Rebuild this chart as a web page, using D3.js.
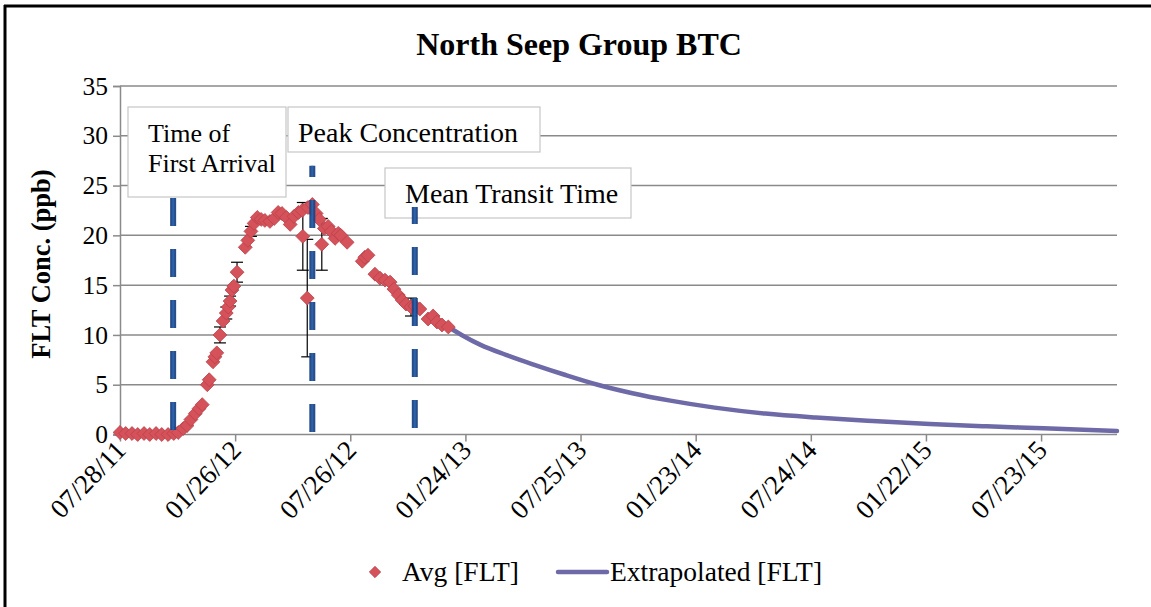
<!DOCTYPE html>
<html><head><meta charset="utf-8">
<script src="https://cdn.jsdelivr.net/npm/d3@7"></script>
<style>
body{margin:0;background:#fff}
svg{display:block}
text{font-family:"Liberation Serif","Times New Roman",serif;fill:#000}
</style>
</head><body>
<svg id="c" width="1151" height="607"></svg>
<script>
// ---------------- DATA ----------------
const startDate = "07/28/11";
const endDate = "11/20/15";
const xTickLabels = ["07/28/11","01/26/12","07/26/12","01/24/13","07/25/13","01/23/14","07/24/14","01/22/15","07/23/15"];
const yTicks = [0,5,10,15,20,25,30,35];

// Avg [FLT] : days since 07/28/11, concentration (ppb), error (ppb)
const avgDays = [0,9,19,28,38,47,57,66,76,85,92,100,106,112,119,125,130,138,141,147,150,153,158,163,168,171,174,177,180,185,198,202,207,212,217,223,229,237,244,250,256,263,269,275,282,288,289,296,297,304,310,315,319,323,329,334,340,345,349,359,383,387,392,403,411,419,427,433,440,446,452,460,466,474,487,495,501,509,519];
const avgValues = [0.2,0.1,0.1,0.0,0.1,0.0,0.1,0.0,0.0,0.1,0.2,0.6,0.9,1.5,2.1,2.6,3.0,5.0,5.5,7.3,7.8,8.2,10.0,11.4,12.2,12.8,13.4,14.5,14.9,16.3,18.8,19.5,20.4,21.2,21.8,21.6,21.5,21.4,21.7,22.3,22.2,21.8,21.1,21.9,22.3,22.5,19.9,13.7,22.8,23.1,22.2,21.6,19.1,20.7,20.9,20.4,19.7,20.2,20.0,19.3,17.4,17.8,18.0,16.1,15.7,15.5,15.3,14.6,14.0,13.5,13.1,12.8,12.9,12.6,11.6,11.9,11.3,11.0,10.8];
const avgErrors = [0,0,0,0,0,0,0,0,0,0,0,0,0,0,0,0,0,0,0,0,0,0,0.8,0,0.6,0,0.5,0,0,1.0,0,0,0.5,0,0,0,0,0,0,0,0,0,0,0,0,0,3.4,5.9,0,0,0,0,2.6,0,0,0,0,0,0,0,0,0,0,0,0,0,0,0,0,0,0,0.9,0,0,0,0,0,0,0];

// Extrapolated [FLT]
const extrapDays = [519,540,570,610,655,703,755,810,870,940,1020,1100,1190,1280,1370,1460,1576];
const extrapValues = [10.8,10.0,9.0,8.0,7.0,6.0,5.0,4.15,3.4,2.7,2.1,1.7,1.35,1.05,0.82,0.62,0.35];

// Vertical dashed markers (days since start, bottom, top in ppb)
const markerNames = ["Time of First Arrival","Peak Concentration","Mean Transit Time"];
const markerDays = [84,304,466];
const markerBottom = [0.45,0.25,0.65];
const markerTop = [26.5,27.0,22.85];

// ---------------- CHART ----------------
const svg = d3.select("#c");
const parse = d3.timeParse("%m/%d/%y");
const t0 = parse(startDate);
const dayToDate = d => d3.timeDay.offset(t0, d);

const L = 120, R = 1117, T = 86, B = 434.5;
const x = d3.scaleTime().domain([t0, parse(endDate)]).range([L, R]);
const y = d3.scaleLinear().domain([0, 35]).range([B, T]);

// border
svg.append("line").attr("x1",4).attr("x2",1151).attr("y1",6).attr("y2",6).attr("stroke","#000").attr("stroke-width",3);
svg.append("line").attr("x1",5).attr("x2",5).attr("y1",5).attr("y2",607).attr("stroke","#000").attr("stroke-width",3);

// gridlines
svg.append("g").selectAll("line").data(yTicks.filter(v=>v>0)).join("line")
  .attr("x1",L).attr("x2",R).attr("y1",d=>y(d)).attr("y2",d=>y(d))
  .attr("stroke","#8a8a8a").attr("stroke-width",1.5);

// y axis
const yAxis = svg.append("g").attr("transform",`translate(${L},0)`)
  .call(d3.axisLeft(y).tickValues(yTicks).tickSize(7).tickPadding(5).tickFormat(d3.format("d")));
yAxis.select(".domain").attr("stroke","#8a8a8a").attr("stroke-width",1.5);
yAxis.selectAll(".tick line").attr("stroke","#8a8a8a").attr("stroke-width",1.5);
yAxis.selectAll("text").attr("font-size",25.5).attr("fill","#000");

// x axis
const xTicks = xTickLabels.map(parse);
const xAxis = svg.append("g").attr("transform",`translate(0,${B})`)
  .call(d3.axisBottom(x).tickValues(xTicks).tickSize(7).tickFormat(d3.timeFormat("%m/%d/%y")));
xAxis.select(".domain").attr("stroke","#8a8a8a").attr("stroke-width",1.5).attr("d",`M${L},0H${R}`);
xAxis.selectAll(".tick line").attr("stroke","#8a8a8a").attr("stroke-width",1.5);
xAxis.selectAll(".tick text")
  .attr("font-size",27).attr("fill","#000")
  .attr("text-anchor","end").attr("dy",0)
  .attr("transform","translate(7,17) rotate(-46)").attr("y",0).attr("x",0);

// extrapolated line
const line = d3.line().x(d=>x(dayToDate(d[0]))).y(d=>y(d[1])).curve(d3.curveMonotoneX);
svg.append("path").datum(extrapDays.map((d,i)=>[d,extrapValues[i]]))
  .attr("d",line).attr("fill","none").attr("stroke","#6e6aa8").attr("stroke-width",4.5).attr("stroke-linecap","round");

// error bars
const pts = avgDays.map((d,i)=>({d, v:avgValues[i], e:avgErrors[i]}));
const eb = svg.append("g").attr("stroke","#000").attr("stroke-width",1.2);
pts.filter(p=>p.e>0).forEach(p=>{
  const cx = x(dayToDate(p.d));
  eb.append("line").attr("x1",cx).attr("x2",cx).attr("y1",y(p.v-p.e)).attr("y2",y(p.v+p.e));
  [p.v-p.e, p.v+p.e].forEach(v=>eb.append("line").attr("x1",cx-6).attr("x2",cx+6).attr("y1",y(v)).attr("y2",y(v)));
});

// markers (diamonds)
svg.append("g").selectAll("path").data(pts).join("path")
  .attr("d",d3.symbol().type(d3.symbolSquare).size(96))
  .attr("transform",p=>`translate(${x(dayToDate(p.d))},${y(p.v)}) rotate(45)`)
  .attr("fill","#d5525a").attr("stroke","#b9424b").attr("stroke-width",0.8);

// dashed vertical marker lines
function drawMarker(i){
  const cx = x(dayToDate(markerDays[i]));
  svg.append("line").attr("x1",cx).attr("x2",cx)
    .attr("y1",y(markerBottom[i])).attr("y2",y(markerTop[i]))
    .attr("stroke","#1c4585").attr("stroke-width",6).attr("stroke-dasharray","28,23").attr("opacity",0.95);
  svg.append("line").attr("x1",cx).attr("x2",cx)
    .attr("y1",y(markerBottom[i])).attr("y2",y(markerTop[i]))
    .attr("stroke","#2f67b3").attr("stroke-width",2).attr("stroke-dasharray","28,23").attr("opacity",0.8);
}
drawMarker(0); drawMarker(1);

// annotation boxes
function box(x0,y0,x1,y1,fs,lines){
  const g = svg.append("g");
  g.append("rect").attr("x",x0).attr("y",y0).attr("width",x1-x0).attr("height",y1-y0)
    .attr("fill","#fff").attr("stroke","#c6c6c6").attr("stroke-width",1.2);
  lines.forEach(l=>g.append("text").attr("x",l[0]).attr("y",l[1]).attr("font-size",fs).text(l[2]));
}
box(288,107,540,152,28,[[298,142,"Peak Concentration"]]);
box(128,107,286,197,26,[[148,142,"Time of"],[148,172,"First Arrival"]]);
box(385,168,631,218,28,[[405,203,"Mean Transit Time"]]);
drawMarker(2);

// title
svg.append("text").attr("x",579).attr("y",55).attr("text-anchor","middle")
  .attr("font-size",32).attr("font-weight","bold").text("North Seep Group BTC");

// y axis title
svg.append("text").attr("transform","translate(50,264) rotate(-90)").attr("text-anchor","middle")
  .attr("font-size",26.5).attr("font-weight","bold").text("FLT Conc. (ppb)");

// legend
svg.append("path").attr("d",d3.symbol().type(d3.symbolSquare).size(64))
  .attr("transform","translate(375,572) rotate(45)").attr("fill","#d5525a").attr("stroke","#b9424b").attr("stroke-width",0.8);
svg.append("text").attr("x",402).attr("y",581).attr("font-size",27.5).text("Avg [FLT]");
svg.append("line").attr("x1",558).attr("x2",607).attr("y1",572).attr("y2",572)
  .attr("stroke","#6e6aa8").attr("stroke-width",4.5).attr("stroke-linecap","round");
svg.append("text").attr("x",610).attr("y",581).attr("font-size",27.5).text("Extrapolated [FLT]");
</script>
</body></html>
